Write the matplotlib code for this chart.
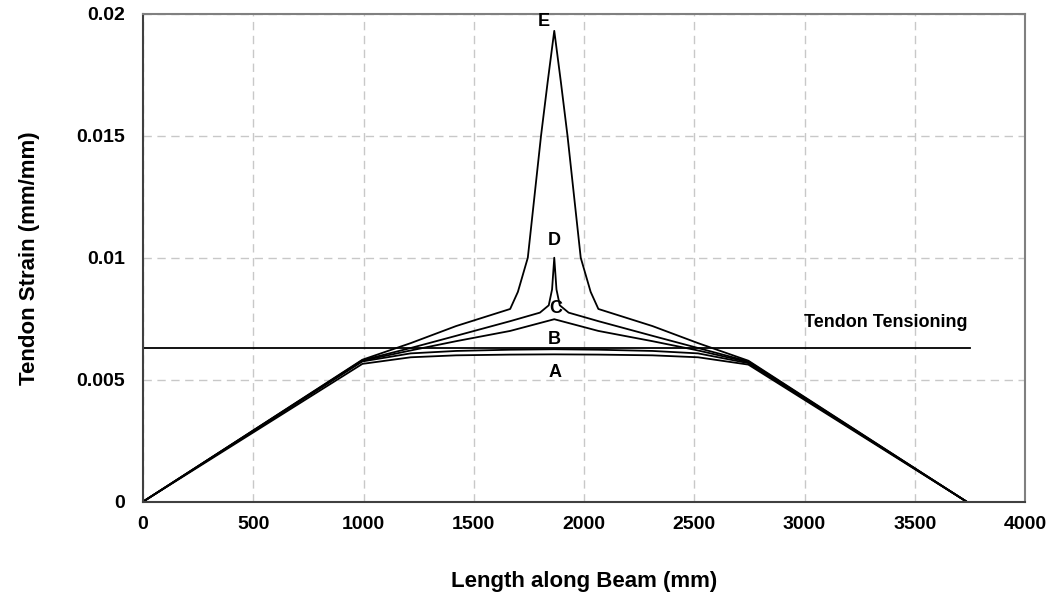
"""Tendon strain along beam for load stages A-E."""

import matplotlib
matplotlib.use("Agg")
import matplotlib.pyplot as plt

# positions along beam (mm) and strain (mm/mm)
x_a = [0, 995, 1214, 1420, 1665, 1865, 2065, 2310, 2517, 2745, 3735]
strain_a = [0, 0.00565, 0.00592, 0.00600, 0.00603, 0.00604, 0.00603, 0.00600, 0.00592, 0.00562, 0]

x_b = [0, 995, 1214, 1420, 1665, 1865, 2065, 2310, 2517, 2745, 3735]
strain_b = [0, 0.00575, 0.00608, 0.00618, 0.00623, 0.00625, 0.00623, 0.00618, 0.00608, 0.00568, 0]

x_c = [0, 995, 1214, 1420, 1665, 1865, 2065, 2310, 2517, 2745, 3735]
strain_c = [0, 0.00578, 0.00620, 0.00658, 0.00700, 0.00748, 0.00700, 0.00658, 0.00620, 0.00572, 0]

x_d = [0, 995, 1214, 1420, 1665, 1800, 1840, 1855, 1865, 1875, 1890, 1930, 2065, 2310, 2517, 2745, 3735]
strain_d = [0, 0.00580, 0.00630, 0.00680, 0.00740, 0.00775, 0.00805, 0.00870, 0.01000,
            0.00870, 0.00805, 0.00775, 0.00740, 0.00680, 0.00630, 0.00575, 0]

x_e = [0, 995, 1214, 1420, 1665, 1700, 1745, 1775, 1805, 1835, 1865,
       1895, 1925, 1955, 1985, 2030, 2065, 2310, 2517, 2745, 3735]
strain_e = [0, 0.00582, 0.00650, 0.00720, 0.00790, 0.00860, 0.01000, 0.01250, 0.01500, 0.01720, 0.01930,
            0.01720, 0.01500, 0.01250, 0.01000, 0.00860, 0.00790, 0.00720, 0.00650, 0.00578, 0]

tension_x = [0, 3750]
tension_strain = [0.0063, 0.0063]

curve_labels = ["A", "B", "C", "D", "E"]
label_x = [1870, 1865, 1870, 1865, 1818]
label_y = [0.0053, 0.00665, 0.0079, 0.0107, 0.0197]

fig = plt.figure(figsize=(10.59, 5.98), dpi=100)
ax = fig.add_axes([0.135, 0.161, 0.833, 0.816])
plt.rcParams["font.family"] = ["Liberation Sans", "DejaVu Sans"]

for xs, ys in [(x_a, strain_a), (x_b, strain_b), (x_c, strain_c), (x_d, strain_d), (x_e, strain_e)]:
    ax.plot(xs, ys, color="black", lw=1.3)
ax.plot(tension_x, tension_strain, color="black", lw=1.3)

for name, lx, ly in zip(curve_labels, label_x, label_y):
    ax.text(lx, ly, name, ha="center", va="center", fontsize=13, fontweight="bold",
            family="Liberation Sans")
ax.text(3370, 0.00735, "Tendon Tensioning", ha="center", va="center", fontsize=13,
        fontweight="bold", family="Liberation Sans")

ax.set_xlim(0, 4000)
ax.set_ylim(0, 0.02)
ax.set_xticks(range(0, 4001, 500))
ax.set_yticks([0, 0.005, 0.01, 0.015, 0.02])
ax.set_yticklabels(["0", "0.005", "0.01", "0.015", "0.02"])
ax.tick_params(length=0, labelsize=14)
ax.tick_params(axis="x", pad=10)
ax.tick_params(axis="y", pad=13)
for lab in ax.get_xticklabels() + ax.get_yticklabels():
    lab.set_fontweight("bold")
    lab.set_family("Liberation Sans")
ax.grid(True, color="#c8c8c8", linestyle=(0, (6, 4)), lw=1)
ax.set_axisbelow(True)
for side in ["top", "right"]:
    ax.spines[side].set_color("#808080")
for side in ["left", "bottom"]:
    ax.spines[side].set_color("#404040")
for sp in ax.spines.values():
    sp.set_linewidth(1.5)

ax.set_xlabel("Length along Beam (mm)", fontsize=16, fontweight="bold", family="Liberation Sans", labelpad=28)
ax.set_ylabel("Tendon Strain (mm/mm)", fontsize=16, fontweight="bold", family="Liberation Sans", labelpad=26)

fig.savefig("out.png", dpi=100)
